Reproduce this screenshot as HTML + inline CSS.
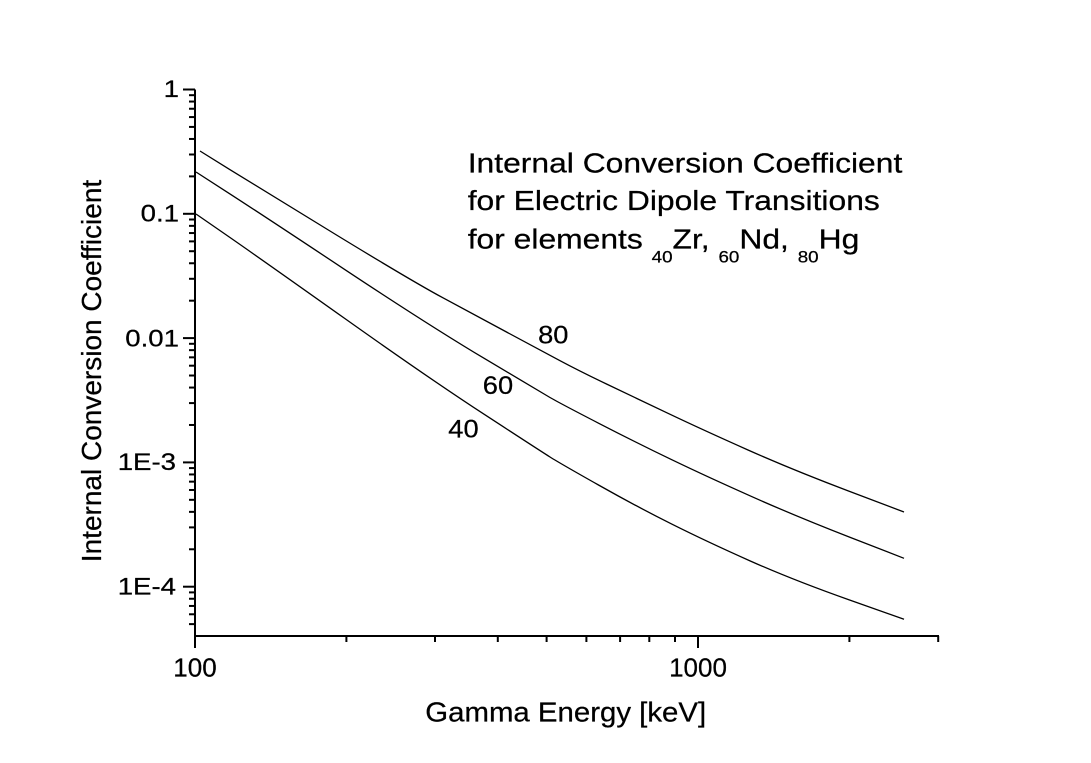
<!DOCTYPE html>
<html>
<head>
<meta charset="utf-8">
<style>
html,body{margin:0;padding:0;background:#fff;}
svg{display:block;}
text{font-family:"Liberation Sans",Arial,sans-serif;fill:#000;stroke:#000;stroke-width:0.25px;}
</style>
</head>
<body>
<svg width="1091" height="763" viewBox="0 0 1091 763" xmlns="http://www.w3.org/2000/svg">
<rect x="0" y="0" width="1091" height="763" fill="#fff"/>

<!-- axes -->
<path d="M195,89.5 V636 H939" fill="none" stroke="#000" stroke-width="2"/>

<!-- y major ticks -->
<g stroke="#000" stroke-width="2">
<line x1="183" y1="89.5" x2="195" y2="89.5"/>
<line x1="183" y1="213.8" x2="195" y2="213.8"/>
<line x1="183" y1="338.1" x2="195" y2="338.1"/>
<line x1="183" y1="462.4" x2="195" y2="462.4"/>
<line x1="183" y1="586.7" x2="195" y2="586.7"/>
</g>
<!-- y minor ticks -->
<g stroke="#000" stroke-width="2">
<line x1="189" y1="176.38" x2="195" y2="176.38"/><line x1="189" y1="154.49" x2="195" y2="154.49"/><line x1="189" y1="138.96" x2="195" y2="138.96"/><line x1="189" y1="126.92" x2="195" y2="126.92"/><line x1="189" y1="117.08" x2="195" y2="117.08"/><line x1="189" y1="108.75" x2="195" y2="108.75"/><line x1="189" y1="101.55" x2="195" y2="101.55"/><line x1="189" y1="95.19" x2="195" y2="95.19"/>
<line x1="189" y1="300.68" x2="195" y2="300.68"/><line x1="189" y1="278.79" x2="195" y2="278.79"/><line x1="189" y1="263.26" x2="195" y2="263.26"/><line x1="189" y1="251.22" x2="195" y2="251.22"/><line x1="189" y1="241.38" x2="195" y2="241.38"/><line x1="189" y1="233.05" x2="195" y2="233.05"/><line x1="189" y1="225.85" x2="195" y2="225.85"/><line x1="189" y1="219.49" x2="195" y2="219.49"/>
<line x1="189" y1="424.98" x2="195" y2="424.98"/><line x1="189" y1="403.09" x2="195" y2="403.09"/><line x1="189" y1="387.56" x2="195" y2="387.56"/><line x1="189" y1="375.52" x2="195" y2="375.52"/><line x1="189" y1="365.68" x2="195" y2="365.68"/><line x1="189" y1="357.35" x2="195" y2="357.35"/><line x1="189" y1="350.15" x2="195" y2="350.15"/><line x1="189" y1="343.79" x2="195" y2="343.79"/>
<line x1="189" y1="549.28" x2="195" y2="549.28"/><line x1="189" y1="527.39" x2="195" y2="527.39"/><line x1="189" y1="511.86" x2="195" y2="511.86"/><line x1="189" y1="499.82" x2="195" y2="499.82"/><line x1="189" y1="489.98" x2="195" y2="489.98"/><line x1="189" y1="481.65" x2="195" y2="481.65"/><line x1="189" y1="474.45" x2="195" y2="474.45"/><line x1="189" y1="468.09" x2="195" y2="468.09"/>
<line x1="189" y1="624.12" x2="195" y2="624.12"/><line x1="189" y1="614.28" x2="195" y2="614.28"/><line x1="189" y1="605.95" x2="195" y2="605.95"/><line x1="189" y1="598.75" x2="195" y2="598.75"/><line x1="189" y1="592.39" x2="195" y2="592.39"/>
</g>

<!-- x ticks -->
<g stroke="#000" stroke-width="2">
<line x1="195" y1="636" x2="195" y2="648"/>
<line x1="698" y1="636" x2="698" y2="648"/>
<line x1="346.4" y1="636" x2="346.4" y2="642"/>
<line x1="435" y1="636" x2="435" y2="642"/>
<line x1="497.8" y1="636" x2="497.8" y2="642"/>
<line x1="546.6" y1="636" x2="546.6" y2="642"/>
<line x1="586.4" y1="636" x2="586.4" y2="642"/>
<line x1="620.1" y1="636" x2="620.1" y2="642"/>
<line x1="649.3" y1="636" x2="649.3" y2="642"/>
<line x1="675" y1="636" x2="675" y2="642"/>
<line x1="849.4" y1="636" x2="849.4" y2="642"/>
<line x1="938.2" y1="636" x2="938.2" y2="642"/>
</g>

<!-- y tick labels -->
<g font-size="24">
<text transform="translate(179,97) scale(1.15,1)" text-anchor="end">1</text>
<text transform="translate(179,221.7) scale(1.15,1)" text-anchor="end">0.1</text>
<text transform="translate(179,346.5) scale(1.15,1)" text-anchor="end">0.01</text>
<text transform="translate(176,470) scale(1.15,1)" text-anchor="end">1E-3</text>
<text transform="translate(176,594.5) scale(1.15,1)" text-anchor="end">1E-4</text>
</g>

<!-- x tick labels -->
<g font-size="26" text-anchor="middle">
<text x="195" y="676.5">100</text>
<text x="698" y="676.5">1000</text>
</g>

<!-- axis titles -->
<text transform="translate(425.3,721.7) scale(1.05,1)" font-size="28">Gamma Energy [keV]</text>
<text transform="translate(101,371) rotate(-90)" font-size="28" text-anchor="middle">Internal Conversion Coefficient</text>

<!-- curves -->
<g fill="none" stroke="#000" stroke-width="1.3" stroke-linejoin="round">
<path d="M200,151 L230,169.65 Q260,188.3 336.5,235 Q413,281.7 443,297.85 Q473,314 506.5,332 Q540,350 560,360.65 Q580,371.3 606.5,384 Q633,396.7 668,413.35 Q703,430 748,450 Q793,470 848.5,491 L904,512"/>
<path d="M196,172 L228,192.65 Q260,213.3 345,269.65 Q430,326 485,358.85 Q540,391.7 550,397.5 Q560,403.3 598.5,423.15 Q637,443 672,459.85 Q707,476.7 752,496.7 Q797,516.7 850.5,537.5 L904,558.3"/>
<path d="M196,214 L228,236.15 Q260,258.3 345,318.65 Q430,379 485,414.85 Q540,450.7 550,457 Q560,463.3 598.5,485 Q637,506.7 672,524.2 Q707,541.7 750,560.85 Q793,580 848.5,599.65 L904,619.3"/>
</g>

<!-- curve labels -->
<g font-size="25">
<text transform="translate(538.1,343.3) scale(1.09,1)">80</text>
<text transform="translate(482.8,394) scale(1.09,1)">60</text>
<text transform="translate(448.3,437.7) scale(1.09,1)">40</text>
</g>

<!-- title -->
<g transform="translate(467.7,0) scale(1.137,1)" font-size="28">
<text x="0" y="172.3">Internal Conversion Coefficient</text>
<text x="0" y="210">for Electric Dipole Transitions</text>
<text x="0" y="248.5">for elements <tspan font-size="16.5" dy="14">40</tspan><tspan dy="-14">Zr, </tspan><tspan font-size="16.5" dy="14">60</tspan><tspan dy="-14">Nd, </tspan><tspan font-size="16.5" dy="14">80</tspan><tspan dy="-14">Hg</tspan></text>
</g>
</svg>
</body>
</html>
